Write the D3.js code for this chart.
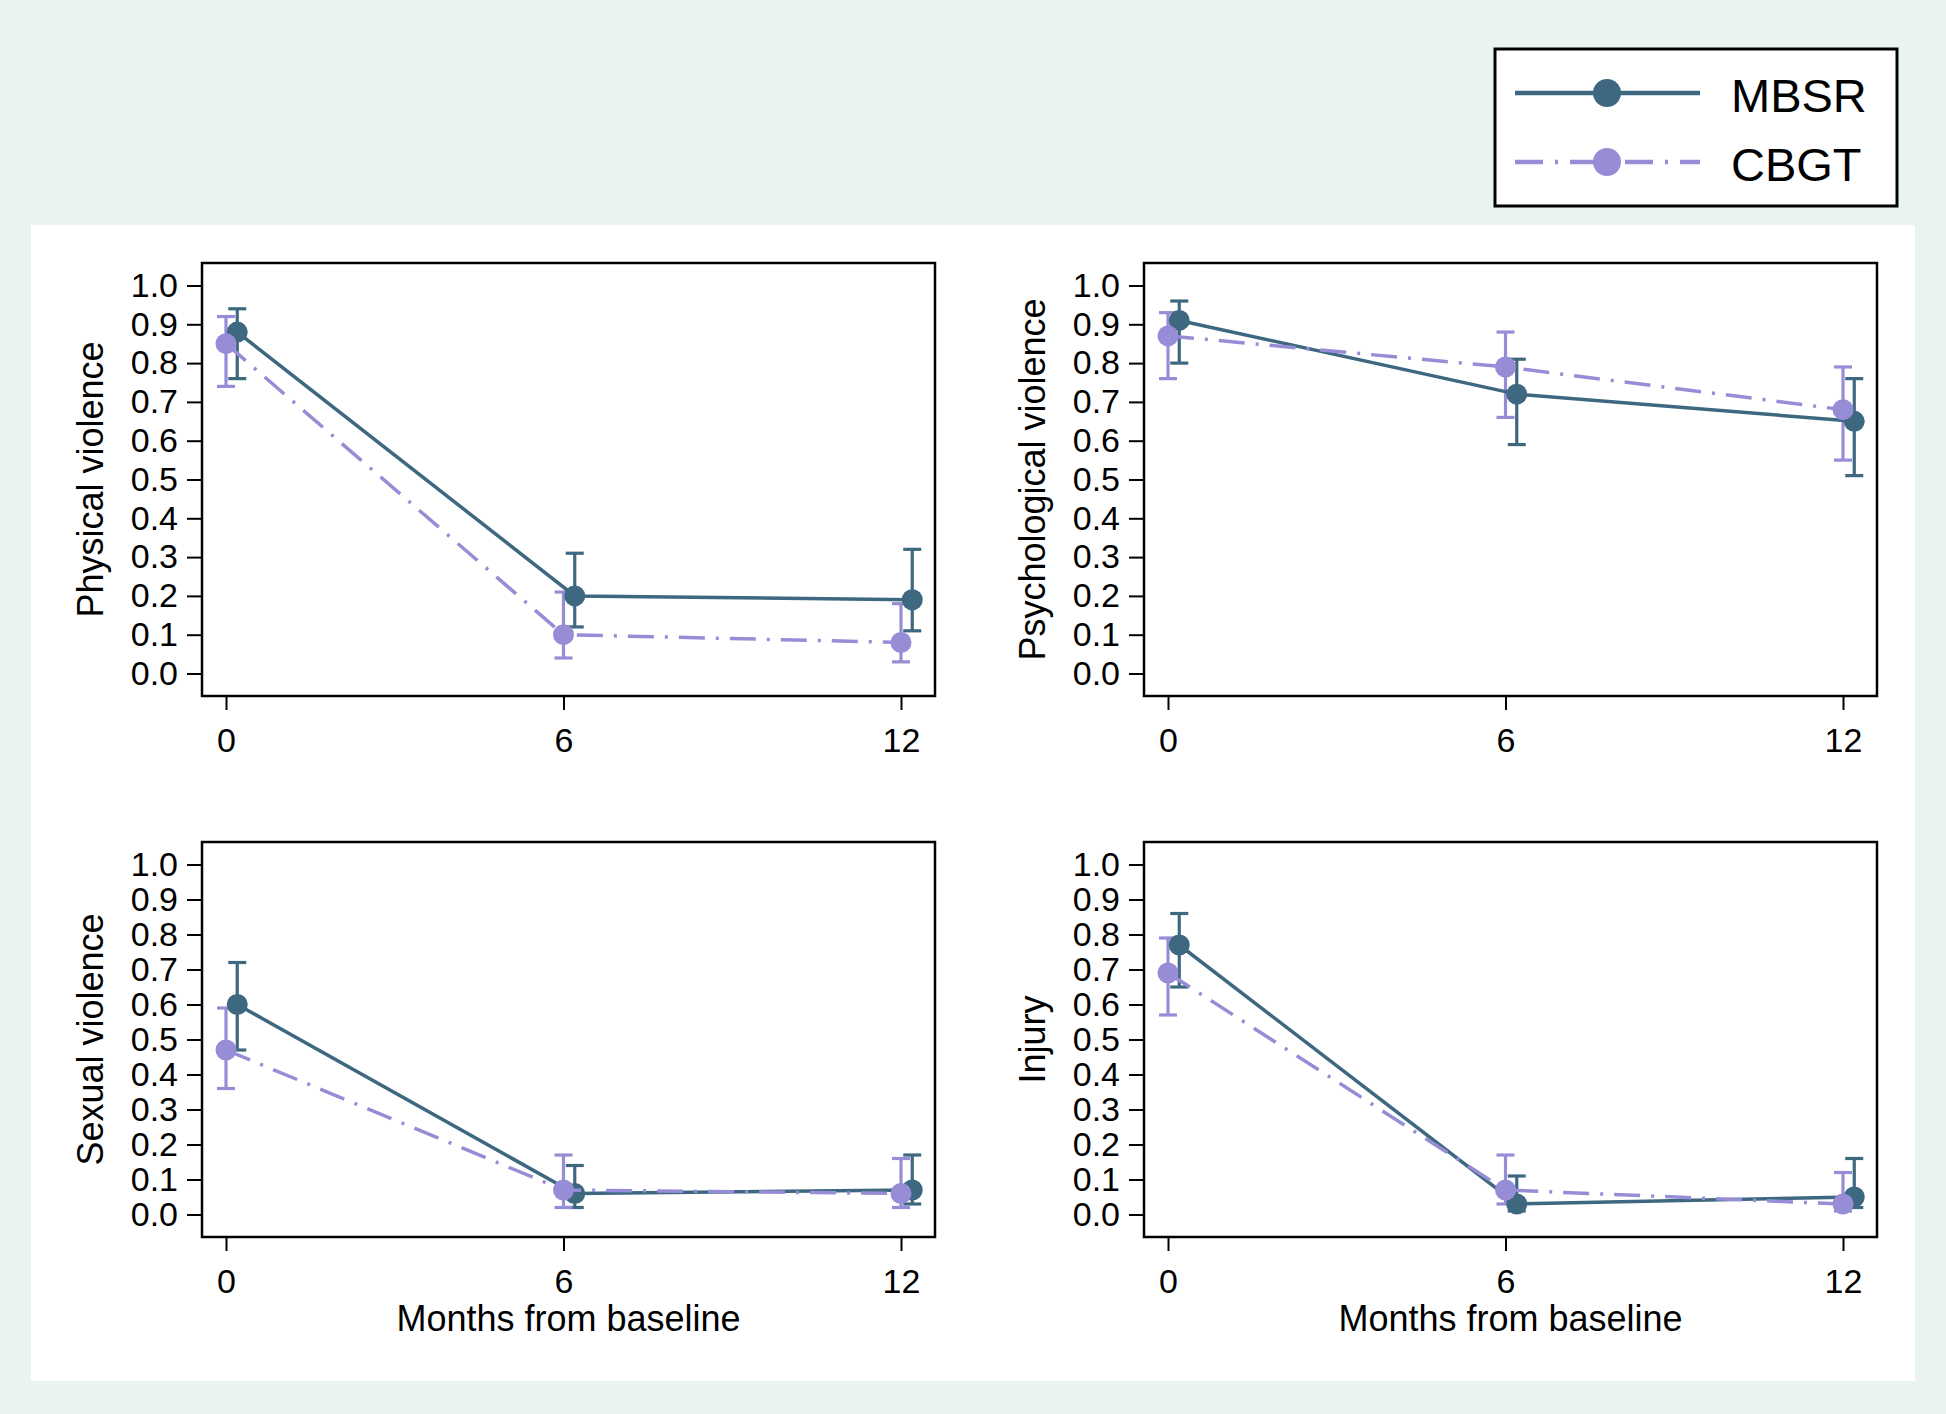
<!DOCTYPE html>
<html>
<head>
<meta charset="utf-8">
<script src="https://cdn.jsdelivr.net/npm/d3@7"></script>
<style>
  body { margin: 0; background: #eaf2f2; }
  text { font-family: "Liberation Sans", Arial, sans-serif; fill: #000; }
</style>
</head>
<body>
<div class="chart"></div>
<script>
// data
const months = [0, 6, 12];
const outcomes = ["Physical violence", "Psychological violence", "Sexual violence", "Injury"];
const groups = ["MBSR", "CBGT"];
const yTicks = [0.0, 0.1, 0.2, 0.3, 0.4, 0.5, 0.6, 0.7, 0.8, 0.9, 1.0];

// one row per outcome, one value per month
const mbsrMean = [[0.88, 0.20, 0.19], [0.91, 0.72, 0.65], [0.60, 0.06, 0.07], [0.77, 0.03, 0.05]];
const mbsrLow  = [[0.76, 0.12, 0.11], [0.80, 0.59, 0.51], [0.47, 0.02, 0.03], [0.65, 0.01, 0.02]];
const mbsrHigh = [[0.94, 0.31, 0.32], [0.96, 0.81, 0.76], [0.72, 0.14, 0.17], [0.86, 0.11, 0.16]];
const cbgtMean = [[0.85, 0.10, 0.08], [0.87, 0.79, 0.68], [0.47, 0.07, 0.06], [0.69, 0.07, 0.03]];
const cbgtLow  = [[0.74, 0.04, 0.03], [0.76, 0.66, 0.55], [0.36, 0.02, 0.02], [0.57, 0.03, 0.01]];
const cbgtHigh = [[0.92, 0.21, 0.18], [0.93, 0.88, 0.79], [0.59, 0.17, 0.16], [0.79, 0.17, 0.12]];

// MBSR is drawn slightly to the right of each time point
const mbsrShift = 0.2;

var w = 1946,
	h = 1414,
	colors = { MBSR: "#3d6880", CBGT: "#978dd6" },
	dash = { MBSR: null, CBGT: "26,11,3,11" },
	colLeft = [202, 1144],
	rowTop = [263, 842],
	rowHeight = [433, 395],
	frameW = 733;

const svg = d3.select(".chart").append("svg").attr("width", w).attr("height", h);

svg.append("rect").attr("width", w).attr("height", h).attr("fill", "#eaf2f2");
svg.append("rect").attr("x", 31).attr("y", 225).attr("width", 1884).attr("height", 1156).attr("fill", "#fff");

outcomes.forEach((name, i) => {
	const L = colLeft[i % 2],
		T = rowTop[Math.floor(i / 2)],
		fh = rowHeight[Math.floor(i / 2)],
		B = T + fh,
		R = L + frameW;

	const xScale = d3.scaleLinear().domain([0, 12]).range([L + 24, R - 34]);
	const yScale = d3.scaleLinear().domain([0, 1]).range([B - 22.5, T + 22.5]);

	const g = svg.append("g").attr("class", "panel");

	// axes
	const yAxis = d3.axisLeft(yScale).tickValues(yTicks).tickFormat(d3.format(".1f")).tickSize(15).tickPadding(9);
	const gy = g.append("g").attr("transform", "translate(" + L + ",0)").call(yAxis);
	gy.select(".domain").remove();
	gy.selectAll(".tick line").attr("stroke", "#000").attr("stroke-width", 2);
	gy.selectAll(".tick text").attr("font-size", 34).attr("font-family", "Liberation Sans, Arial, sans-serif");

	const xAxis = d3.axisBottom(xScale).tickValues(months).tickSize(14).tickPadding(18);
	const gx = g.append("g").attr("transform", "translate(0," + B + ")").call(xAxis);
	gx.select(".domain").remove();
	gx.selectAll(".tick line").attr("stroke", "#000").attr("stroke-width", 2);
	gx.selectAll(".tick text").attr("font-size", 34).attr("font-family", "Liberation Sans, Arial, sans-serif");

	// y title
	g.append("text")
		.attr("transform", "translate(" + (L - 99) + "," + (T + fh / 2) + ") rotate(-90)")
		.attr("text-anchor", "middle")
		.attr("font-size", 36)
		.text(name);

	if (i >= 2) {
		g.append("text")
			.attr("x", (L + R) / 2)
			.attr("y", B + 94)
			.attr("text-anchor", "middle")
			.attr("font-size", 36)
			.text("Months from baseline");
	}

	const series = [
		{ key: "MBSR", shift: mbsrShift, mean: mbsrMean[i], lo: mbsrLow[i], hi: mbsrHigh[i] },
		{ key: "CBGT", shift: 0, mean: cbgtMean[i], lo: cbgtLow[i], hi: cbgtHigh[i] }
	].map((s) => ({
		key: s.key,
		pts: months.map((m, j) => ({ x: m + s.shift, y: s.mean[j], lo: s.lo[j], hi: s.hi[j] }))
	}));

	// error bars
	series.forEach((s) => {
		const eb = g.append("g").attr("stroke", colors[s.key]).attr("stroke-width", 3.2);
		s.pts.forEach((p) => {
			const cx = xScale(p.x);
			eb.append("line").attr("x1", cx).attr("x2", cx).attr("y1", yScale(p.lo)).attr("y2", yScale(p.hi));
			eb.append("line").attr("x1", cx - 9).attr("x2", cx + 9).attr("y1", yScale(p.lo)).attr("y2", yScale(p.lo));
			eb.append("line").attr("x1", cx - 9).attr("x2", cx + 9).attr("y1", yScale(p.hi)).attr("y2", yScale(p.hi));
		});
	});

	const line = d3.line().x((d) => xScale(d.x)).y((d) => yScale(d.y));

	series.forEach((s) => {
		g.append("path")
			.datum(s.pts)
			.attr("d", line)
			.attr("fill", "none")
			.attr("stroke", colors[s.key])
			.attr("stroke-width", 3.5)
			.attr("stroke-dasharray", dash[s.key]);
		g.selectAll(null)
			.data(s.pts)
			.enter()
			.append("circle")
			.attr("cx", (d) => xScale(d.x))
			.attr("cy", (d) => yScale(d.y))
			.attr("r", 10.5)
			.attr("fill", colors[s.key]);
	});

	// plot frame
	g.append("rect")
		.attr("x", L).attr("y", T).attr("width", frameW).attr("height", fh)
		.attr("fill", "none").attr("stroke", "#000").attr("stroke-width", 2.5);
});

// legend
const lg = svg.append("g").attr("class", "legend");
lg.append("rect").attr("x", 1495).attr("y", 49).attr("width", 402).attr("height", 157)
	.attr("fill", "#fff").attr("stroke", "#000").attr("stroke-width", 3);
groups.forEach((k, i) => {
	const ly = 93 + i * 69;
	lg.append("line").attr("x1", 1515).attr("x2", 1700).attr("y1", ly).attr("y2", ly)
		.attr("stroke", colors[k]).attr("stroke-width", 4.5)
		.attr("stroke-dasharray", k === "CBGT" ? "28,12,3,12" : null);
	lg.append("circle").attr("cx", 1607).attr("cy", ly).attr("r", 14).attr("fill", colors[k]);
	lg.append("text").attr("x", 1731).attr("y", ly + 18.5).attr("font-size", 47).text(k);
});
</script>
</body>
</html>
